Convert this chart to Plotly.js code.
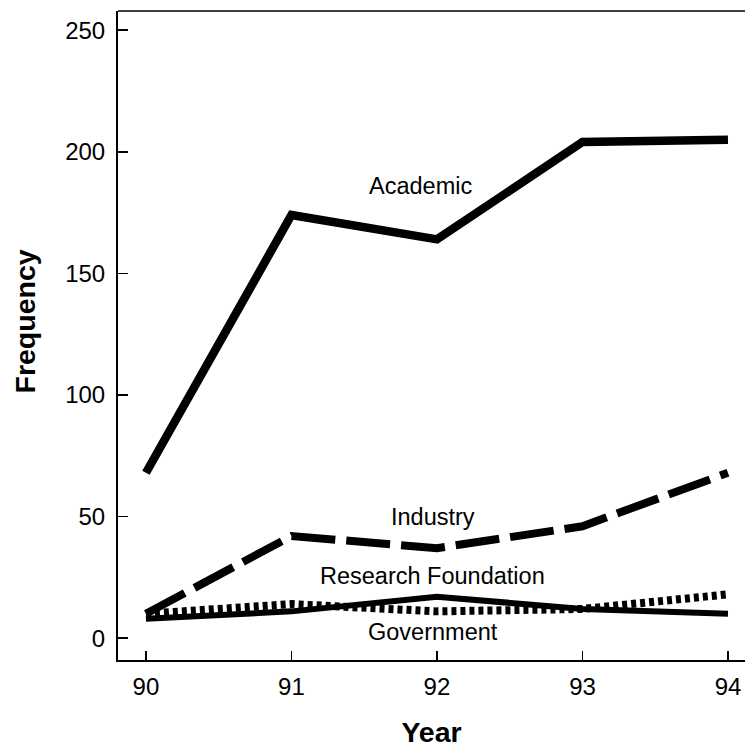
<!DOCTYPE html>
<html>
<head>
<meta charset="utf-8">
<script src="https://cdn.plot.ly/plotly-3.0.1.min.js"></script>
<style>html,body{margin:0;padding:0;background:#fff;}</style>
</head>
<body>
<div id="chart" style="width:745px;height:748px;"></div>
<script>
const years = [90, 91, 92, 93, 94];
const academic = [68, 174, 164, 204, 205];
const industry = [10, 42, 37, 46, 68];
const researchFoundation = [8, 11, 17, 12, 10];
const government = [10, 14, 11, 12, 18];
const yTicks = [0, 50, 100, 150, 200, 250];

const traces = [
  {x: years, y: academic, mode: 'lines', name: 'Academic', line: {color: '#000', width: 8.5}},
  {x: years, y: industry, mode: 'lines', name: 'Industry', line: {color: '#000', width: 8, dash: '44px,11px'}},
  {x: years, y: government, mode: 'lines', name: 'Government', line: {color: '#000', width: 8, dash: '5px,4px'}},
  {x: years, y: researchFoundation, mode: 'lines', name: 'Research Foundation', line: {color: '#000', width: 6}}
];

const fam = 'Liberation Sans, Arial, Helvetica, sans-serif';
const labelFont = {family: fam, size: 23.5, color: '#000'};
const layout = {
  width: 745, height: 748,
  margin: {l: 118, r: 0, t: 11, b: 88},
  paper_bgcolor: '#fff', plot_bgcolor: '#fff',
  showlegend: false,
  xaxis: {
    range: [89.808, 94.117],
    tickvals: years, ticktext: years.map(String),
    ticks: 'inside', ticklen: 9, tickwidth: 1.5, tickcolor: '#000',
    showline: true, linecolor: '#000', linewidth: 2,
    showgrid: false, zeroline: false,
    tickfont: {family: fam, size: 24, color: '#000'},
    ticklabelstandoff: 4,
    title: {text: '<b>Year</b>', font: {family: fam, size: 28.5, color: '#000'}, standoff: 35}
  },
  yaxis: {
    range: [-9.0, 257.9],
    tickvals: yTicks, ticktext: yTicks.map(String),
    ticks: 'inside', ticklen: 10, tickwidth: 1.5, tickcolor: '#000',
    showline: true, linecolor: '#000', linewidth: 2,
    showgrid: false, zeroline: false,
    tickfont: {family: fam, size: 24, color: '#000'},
    ticklabelstandoff: 6
  },
  shapes: [
    {type: 'line', xref: 'paper', yref: 'paper', x0: 0, x1: 1, y0: 1, y1: 1, line: {color: '#000', width: 1.5}}
  ],
  annotations: [
    {xref: 'paper', yref: 'paper', x: -0.1483, y: 0.5216, xanchor: 'center', yanchor: 'middle',
     text: '<b>Frequency</b>', textangle: -90, showarrow: false, font: {family: fam, size: 28.5, color: '#000'}},
    {x: 91.89, y: 186, text: 'Academic', showarrow: false, font: labelFont},
    {x: 91.97, y: 50, text: 'Industry', showarrow: false, font: labelFont},
    {x: 91.97, y: 25.5, text: 'Research Foundation', showarrow: false, font: labelFont},
    {x: 91.97, y: 2.5, text: 'Government', showarrow: false, font: labelFont}
  ]
};
Plotly.newPlot('chart', traces, layout, {displayModeBar: false, staticPlot: true});
</script>
</body>
</html>
